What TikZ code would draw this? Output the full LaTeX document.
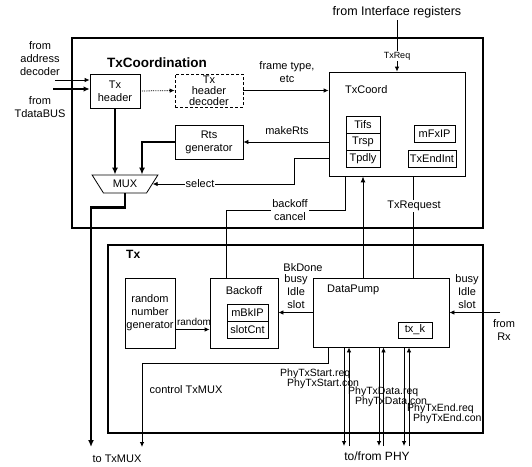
\documentclass[tikz,border=0pt]{standalone}
\usepackage{fontspec}
\setmainfont{Liberation Sans}
\usetikzlibrary{arrows.meta,shapes.geometric}
\begin{document}
\begin{tikzpicture}[x=1pt,y=-1pt,
  font=\fontsize{11}{13}\selectfont,
  box/.style={draw, line width=0.8pt, inner sep=0pt, align=center},
  frame/.style={draw, line width=1.6pt},
  wire/.style={line width=0.8pt},
  arr/.style={wire, -{Latex[length=5pt,width=4.5pt]}},
  thk/.style={line width=2.2pt, -{Latex[length=7pt,width=6pt]}},
  lbl/.style={inner sep=1pt, align=center},
  wlbl/.style={lbl, fill=white},
  phylbl/.style={inner sep=0pt, anchor=west, font=\fontsize{10.5}{12}\selectfont},
]
\useasboundingbox (0,0) rectangle (532,466);

% frames
\draw[frame] (72,38) rectangle (483,228);
\draw[frame] (108,245) rectangle (483,433);
\node[lbl, font=\fontsize{13.5}{15}\selectfont\bfseries, anchor=west] (t1) at (106,63) {TxCoordination};
\node[lbl, font=\fontsize{12}{14}\selectfont\bfseries, anchor=west] (t2) at (125,254) {Tx};

% TxCoordination blocks
\node[box, minimum width=50, minimum height=34] (txh) at (115,91) {Tx\\header};
\node[box, densely dashed, minimum width=68, minimum height=33, font=\fontsize{11}{11}\selectfont] (dec) at (209,90.5) {Tx\\header\\decoder};
\node[box, minimum width=68, minimum height=34] (rts) at (209,142) {Rts\\generator};
\node[box, minimum width=136, minimum height=104] (txc) at (397,124) {};
\node[lbl, anchor=west] (txcl) at (344,90) {TxCoord};
\node[box, minimum width=34, minimum height=17] (tifs) at (363,124.5) {Tifs};
\node[box, minimum width=34, minimum height=17] (trsp) at (363,141.5) {Trsp};
\node[box, minimum width=34, minimum height=17] (tpdly) at (363,158.5) {Tpdly};
\node[box, minimum width=41, minimum height=17] (mfx) at (434.5,133.5) {mFxIP};
\node[box, minimum width=48, minimum height=17] (tei) at (432,158.5) {TxEndInt};
\node[draw, line width=0.8pt, trapezium, shape border rotate=180, trapezium left angle=50, trapezium right angle=50,
      trapezium stretches=true, minimum width=66pt, minimum height=18pt, inner sep=0pt] (mux) at (125,184) {MUX};

% Tx blocks
\node[box, minimum width=50, minimum height=70] (rng) at (150,313) {random\\number\\generator};
\node[box, minimum width=68, minimum height=70] (bo) at (244,313) {};
\node[lbl] (bol) at (244,291) {Backoff};
\node[box, minimum width=41, minimum height=17] (mbk) at (247.5,312.5) {mBkIP};
\node[box, minimum width=41, minimum height=17] (scnt) at (247.5,329.5) {slotCnt};
\node[box, minimum width=136, minimum height=69] (dp) at (381,312.5) {};
\node[lbl, anchor=west] (dpl) at (326,290) {DataPump};
\node[box, minimum width=34, minimum height=16] (txk) at (415,330) {tx\_k};

% external coordinates
\coordinate (ad) at (55,80);
\coordinate (td) at (53,89);
\coordinate (ifr) at (397,20);
\coordinate (rx) at (500,312.5);
\coordinate (tomux) at (91,447);
\coordinate (ctl) at (142,447);

% inputs
\node[lbl] (adl) at (40,59) {from\\address\\decoder};
\node[lbl] (tdl) at (40,107) {from\\TdataBUS};
\draw[arr] (ad) -- (txh.west |- ad);
\draw[line width=1.8pt, -{Latex[length=6pt,width=5.5pt]}] (td) -- (txh.west |- td);
\node[lbl, font=\fontsize{12.5}{14}\selectfont] (ifl) at (397,12) {from Interface registers};
\draw[arr] (ifr) -- (txc.north);
\node[wlbl, font=\fontsize{9}{10}\selectfont] (txreq) at (397,56) {TxReq};

% TxCoordination connectors
\draw[arr, densely dotted] (txh.east) -- (dec.west);
\draw[arr] (dec.east) -- (txc.west |- dec.east);
\node[lbl] (ftl) at (287,72) {frame type,\\etc};
\draw[arr] (txc.west |- rts.east) -- (rts.east);
\node[lbl] (mrl) at (287,131) {makeRts};
\draw[thk] (txh.south) -- (txh.south |- mux.north);
\draw[thk] (rts.west) -| ([xshift=17pt]mux.north);
\draw[arr] (txc.west |- tpdly) -- ++(-34,0) |- (mux.east);
\node[wlbl] (sel) at (200,184) {select};
\draw[thk] (mux.south) -- ++(0,14) -| (tomux);
\node[lbl] (tml) at (117,459) {to TxMUX};

% between the two parts
\draw[wire] (txc.south -| tifs.west) -- ++(0,34) -| ([xshift=17pt]bo.north west);
\node[wlbl] (bcl) at (290,210) {backoff\\cancel};
\draw[line width=1pt, -{Latex[length=6pt,width=5pt]}] (dp.north -| tifs) -- (txc.south -| tifs);
\draw[wire] (txc.south -| mfx.west) -- (dp.north -| mfx.west);
\node[wlbl] (trq) at (414,206) {TxRequest};

% Tx connectors
\draw[arr] (rng.east |- scnt) -- (bo.west |- scnt);
\node[lbl, font=\fontsize{10}{11}\selectfont] (rdl) at (194,322) {random};
\draw[arr] (dp.west |- mbk) -- (bo.east |- mbk);
\node[lbl] (bkd) at (303,268) {BkDone};
\node[lbl] (bis1) at (296,292) {busy\\Idle\\slot};
\draw[arr] (rx) -- (dp.east |- rx);
\node[lbl] (bis2) at (467,292) {busy\\Idle\\slot};
\node[lbl] (frx) at (504,330) {from\\Rx};
\draw[arr] ([xshift=16pt]dp.south west) -- ++(0,16) -| (ctl);
\node[lbl] (ctll) at (186,390) {control TxMUX};

% PHY
\foreach \d/\u [count=\i] in {344/349, 379/383.5, 404/409} {
  \coordinate (pd\i) at (\d,446);
  \coordinate (pu\i) at (\u,446);
  \draw[arr] (dp.south -| pd\i) -- (pd\i);
  \draw[arr] (pu\i) -- (dp.south -| pu\i);
}
\node[phylbl] (p1) at (280,374) {PhyTxStart.req};
\node[phylbl] (p2) at (287,384) {PhyTxStart.con};
\node[phylbl] (p3) at (348,392) {PhyTxData.req};
\node[phylbl] (p4) at (355,402) {PhyTxData.con};
\node[phylbl] (p5) at (407,409) {PhyTxEnd.req};
\node[phylbl] (p6) at (413,419) {PhyTxEnd.con};
\node[lbl, font=\fontsize{12}{14}\selectfont] (phy) at (377,456) {to/from PHY};
\end{tikzpicture}
\end{document}
